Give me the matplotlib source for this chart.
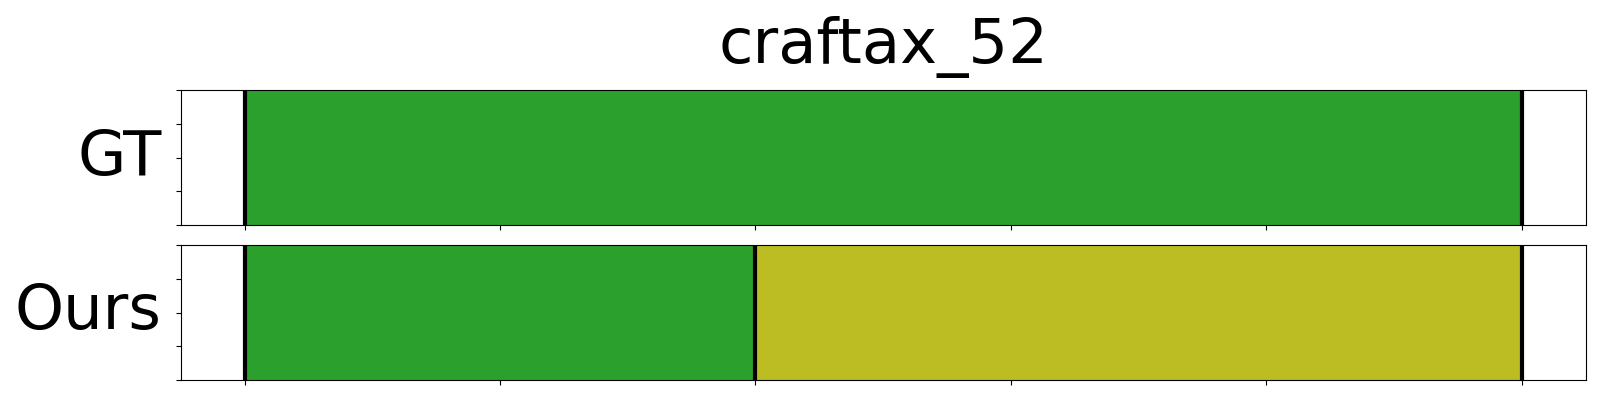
import matplotlib
matplotlib.use("Agg")
import matplotlib.pyplot as plt

title = "craftax_52"
row_labels = ["GT", "Ours"]
# segment boundaries (time steps) and segment classes per row
gt_bounds = [0, 5]
gt_classes = ["green"]
ours_bounds = [0, 2, 5]
ours_classes = ["green", "olive"]
class_colors = {"green": "#2ca02c", "olive": "#bcbd22"}
yticks = [0, 0.25, 0.5, 0.75, 1.0]
xticks = [0, 1, 2, 3, 4, 5]

fig = plt.figure(figsize=(16, 4), dpi=100)
ax_top = fig.add_axes([0.113, 0.4375, 0.878, 0.3375])
ax_bot = fig.add_axes([0.113, 0.05, 0.878, 0.3375])

rows = [(ax_top, gt_bounds, gt_classes), (ax_bot, ours_bounds, ours_classes)]
for (ax, bounds, classes), lab in zip(rows, row_labels):
    for i, c in enumerate(classes):
        ax.axvspan(bounds[i], bounds[i + 1], ymin=0, ymax=1,
                   color=class_colors[c], lw=0)
    for b in bounds:
        ax.axvline(b, color="black", lw=3)
    ax.set_ylim(0, 1)
    ax.set_xlim(bounds[0] - 0.05 * (bounds[-1] - bounds[0]),
                bounds[-1] + 0.05 * (bounds[-1] - bounds[0]))
    ax.set_yticks(yticks)
    ax.set_yticklabels([])
    ax.set_xticks(xticks)
    ax.set_xticklabels([])
    ax.set_ylabel(lab, rotation=0, fontsize=45, ha="right", va="center")
    ax.yaxis.set_label_coords(-0.0135, 0.5)

ax_top.set_title(title, fontsize=45, pad=19.5)

fig.savefig("out.png", dpi=100)
